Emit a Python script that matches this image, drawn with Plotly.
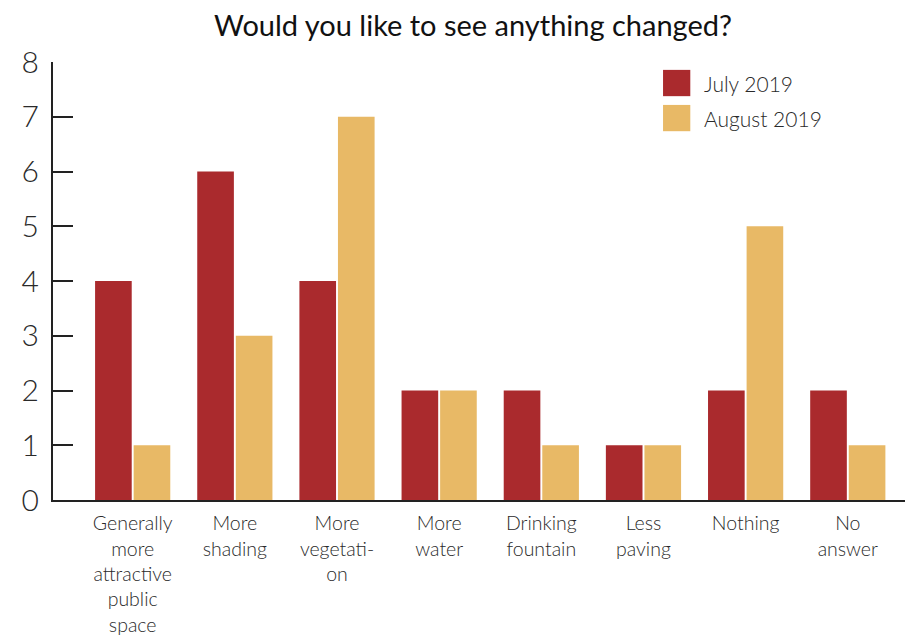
import plotly.graph_objects as go

categories = ["Generally<br>more<br>attractive<br>public<br>space", "More<br>shading",
              "More<br>vegetati-<br>on", "More<br>water", "Drinking<br>fountain",
              "Less<br>paving", "Nothing", "No<br>answer"]
july = [4, 6, 4, 2, 2, 1, 2, 2]
august = [1, 3, 7, 2, 1, 1, 5, 1]
series_names = ["July 2019", "August 2019"]
colors = ["#AA2A2D", "#E8B966"]
title = "Would you like to see anything changed?"
FONT = "Lato"

fig = go.Figure()
fig.add_trace(go.Bar(x=list(range(len(categories))), y=july, name=series_names[0],
                     marker=dict(color=colors[0], line=dict(width=0)), showlegend=False))
fig.add_trace(go.Bar(x=list(range(len(categories))), y=august, name=series_names[1],
                     marker=dict(color=colors[1], line=dict(width=0)), showlegend=False))

# manual legend (large square swatches)
for i, (nm, c) in enumerate(zip(series_names, colors)):
    y0 = 0.982 - i * 0.080
    fig.add_shape(type="rect", xref="paper", yref="paper",
                  x0=0.716, x1=0.748, y0=y0 - 0.060, y1=y0, fillcolor=c, line_width=0)
    fig.add_annotation(xref="paper", yref="paper", x=0.762, y=y0 - 0.030, text=nm,
                       showarrow=False, xanchor="left", yanchor="middle",
                       font=dict(family=FONT, size=21, color="#2a2a2a", weight=300))

fig.update_layout(
    width=908, height=636,
    margin=dict(l=53, r=3, t=62, b=136),
    paper_bgcolor="white", plot_bgcolor="white",
    barmode="group", bargap=0.245, bargroupgap=0.05,
    title=dict(text=title, x=473/908, xanchor="center", y=1 - 26/636, yanchor="middle",
               font=dict(family=FONT, size=29, color="#111")),
    font=dict(family=FONT, color="#333"),
    xaxis=dict(range=[-0.78, 7.56], tickmode="array", tickvals=list(range(len(categories))),
               ticktext=categories, showline=True, linecolor="#222", linewidth=2,
               ticks="", showgrid=False, zeroline=False, automargin=False,
               ticklabelstandoff=5,
               tickfont=dict(family=FONT, size=19.5, color="#2a2a2a", weight=300)),
    yaxis=dict(range=[0, 8], dtick=1, showline=True, linecolor="#222", linewidth=2,
               ticks="inside", ticklen=20, tickwidth=2, tickcolor="#222",
               showgrid=False, zeroline=False, ticklabelstandoff=6, automargin=False,
               tickfont=dict(family=FONT, size=30, color="#2a2a2a", weight=300)),
)

fig.write_html("out.html")
